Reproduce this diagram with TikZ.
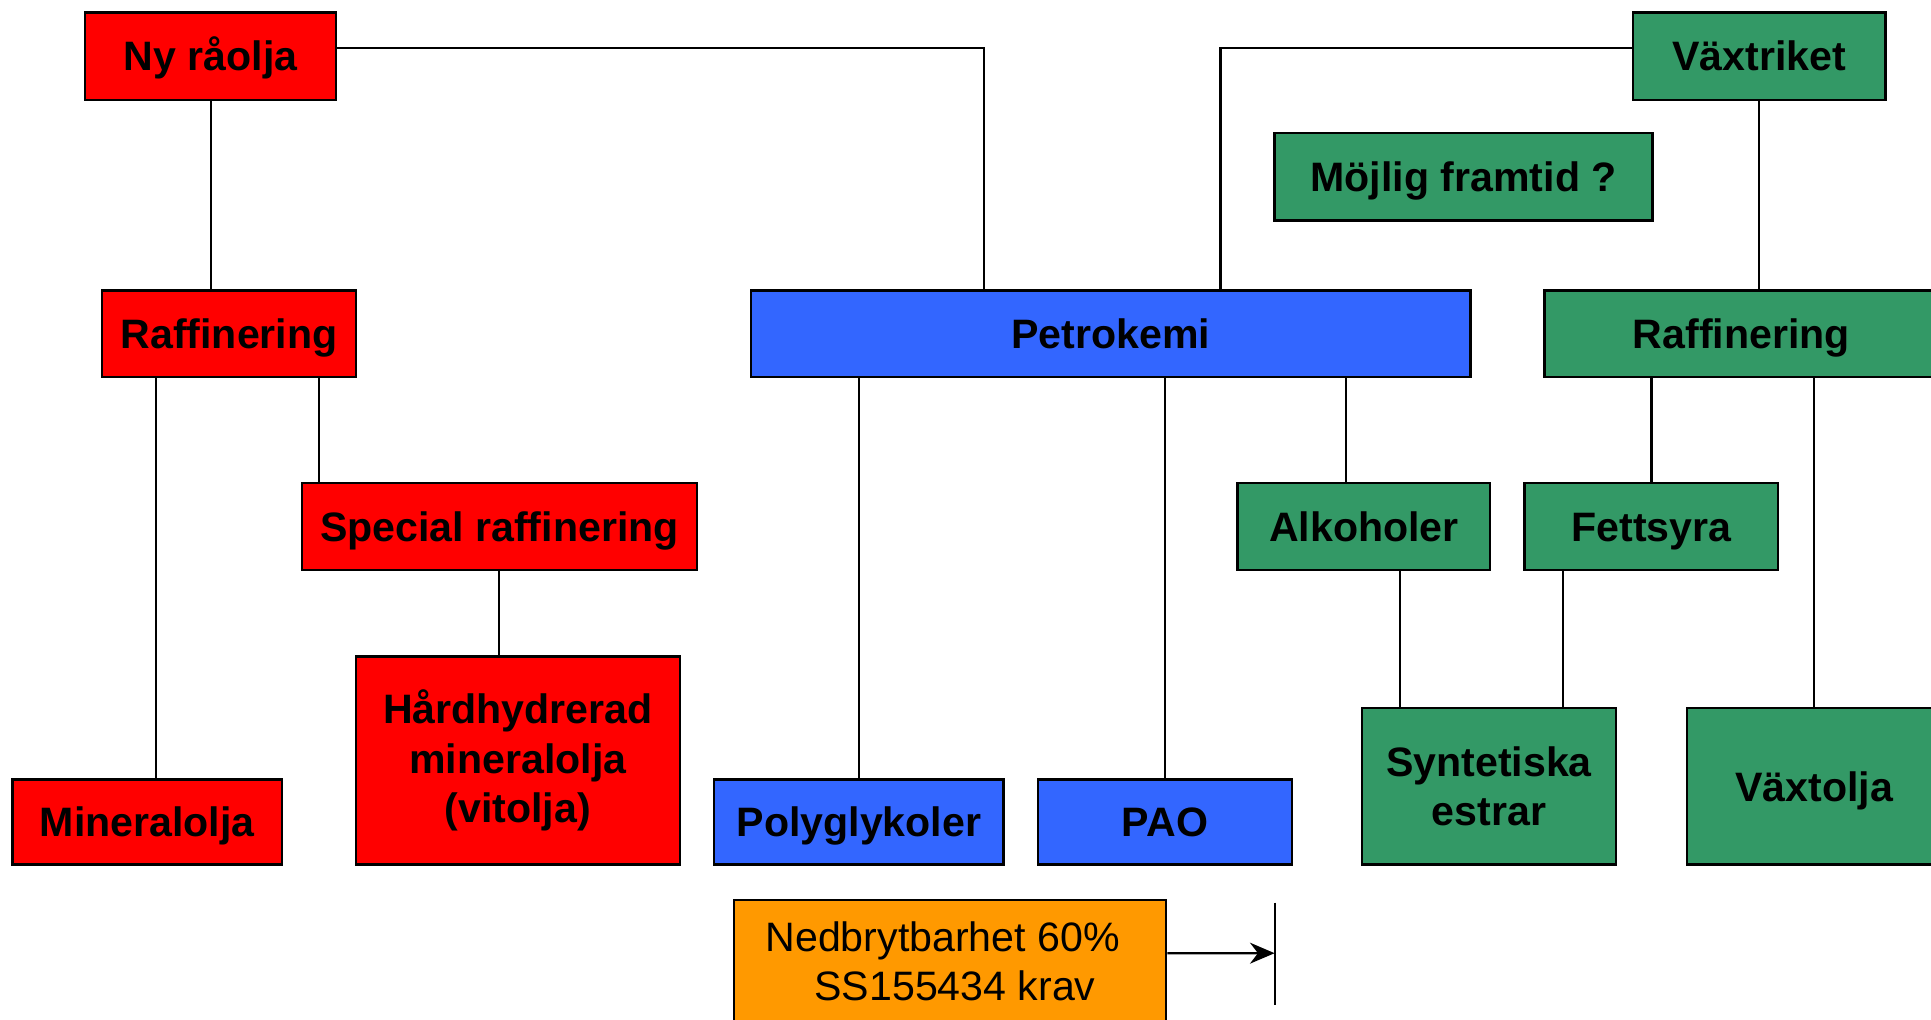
\documentclass[tikz,border=0pt]{standalone}
\usepackage{fontspec}
\setmainfont{Liberation Sans}
\usetikzlibrary{arrows.meta}
\definecolor{oilred}{HTML}{FF0000}
\definecolor{petroblue}{HTML}{3366FF}
\definecolor{plantgreen}{HTML}{339966}
\definecolor{reqorange}{HTML}{FF9900}
\begin{document}
\begin{tikzpicture}[x=0.1mm, y=-0.1mm, >={Stealth[length=2mm,width=1.7mm]},
  box/.style={draw, line width=0.55pt, inner sep=0pt, align=center,
    font=\fontsize{9.5}{11.4}\selectfont\bfseries},
  oneline/.style={text height=2.4mm, text depth=0mm},
  redbox/.style={box, fill=oilred},
  bluebox/.style={box, fill=petroblue},
  greenbox/.style={box, fill=plantgreen},
  link/.style={line width=0.5pt}]
\useasboundingbox (0,0) rectangle (1568,828);

% Top level
\node[redbox, oneline, minimum width=20.4mm, minimum height=7.1mm] (nyr) at (171,45.5) {Ny råolja};
\node[greenbox, oneline, minimum width=20.5mm, minimum height=7.1mm] (vax) at (1428.5,45.5) {Växtriket};
\node[greenbox, oneline, minimum width=30.7mm, minimum height=7.1mm] (mojlig) at (1188.5,143.5) {Möjlig framtid ?};

% Second level
\node[redbox, oneline, minimum width=20.6mm, minimum height=7mm] (raf1) at (186,271) {Raffinering};
\node[bluebox, oneline, minimum width=58.4mm, minimum height=7mm] (petro) at (902,271) {Petrokemi};
\node[greenbox, oneline, minimum width=32mm, minimum height=7mm] (raf2) at (1414,271) {Raffinering};

% Third level
\node[redbox, oneline, minimum width=32.1mm, minimum height=7.1mm] (special) at (405.5,427.5) {Special raffinering};
\node[greenbox, oneline, minimum width=20.5mm, minimum height=7.1mm] (alk) at (1107.5,427.5) {Alkoholer};
\node[greenbox, oneline, minimum width=20.6mm, minimum height=7.1mm] (fett) at (1341,427.5) {Fettsyra};

% Products
\node[redbox, oneline, minimum width=21.9mm, minimum height=6.9mm] (mineral) at (119.5,667.5) {Mineralolja};
\node[redbox, minimum width=26.3mm, minimum height=16.9mm] (hard) at (420.5,617.5) {Hårdhydrerad\\mineralolja\\(vitolja)};
\node[bluebox, oneline, minimum width=23.5mm, minimum height=6.9mm] (poly) at (697.5,667.5) {Polyglykoler};
\node[bluebox, oneline, minimum width=20.6mm, minimum height=6.9mm] (pao) at (946,667.5) {PAO};
\node[greenbox, minimum width=20.6mm, minimum height=12.7mm] (synt) at (1209,638.5) {Syntetiska\\estrar};
\node[greenbox, oneline, minimum width=20.6mm, minimum height=12.7mm] (vaxolja) at (1473,638.5) {Växtolja};

% Requirement
\node[box, fill=reqorange, font=\fontsize{9.5}{11.4}\selectfont, minimum width=35.1mm, minimum height=9.9mm] (krav) at (771.5,780.5) {Nedbrytbarhet 60\%\hspace*{1.2mm}\\ \hspace*{0.8mm}SS155434 krav};
\coordinate (bar) at (1035,774);

% Connectors
\draw[link] ([yshift=0.65mm]nyr.east) -| ([xshift=-10.3mm]petro.north);
\draw[link] ([yshift=0.65mm]vax.west) -| ([xshift=8.9mm]petro.north);
\draw[link] (nyr.south) -- (nyr.south |- raf1.north);
\draw[link] (vax.south) -- (vax.south |- raf2.north);
\draw[link] ([xshift=-5.9mm]raf1.south) -- ([xshift=-5.9mm]raf1.south |- mineral.north);
\draw[link] ([xshift=7.3mm]raf1.south) -- ([xshift=7.3mm]raf1.south |- special.north);
\draw[link] (special.south) -- (special.south |- hard.north);
\draw[link] (poly.north) -- (poly.north |- petro.south);
\draw[link] (pao.north) -- (pao.north |- petro.south);
\draw[link] ([xshift=-1.45mm]alk.north) -- ([xshift=-1.45mm]alk.north |- petro.south);
\draw[link] (fett.north) -- (fett.north |- raf2.south);
\draw[link] (vaxolja.north) -- (vaxolja.north |- raf2.south);
\draw[link] ([xshift=2.95mm]alk.south) -- ([xshift=2.95mm]alk.south |- synt.north);
\draw[link] ([xshift=-7.2mm]fett.south) -- ([xshift=-7.2mm]fett.south |- synt.north);
\draw[link, ->] ([yshift=0.65mm]krav.east) -- (bar);
\draw[link] (bar) ++(0,-41) -- ++(0,83);
\end{tikzpicture}
\end{document}
